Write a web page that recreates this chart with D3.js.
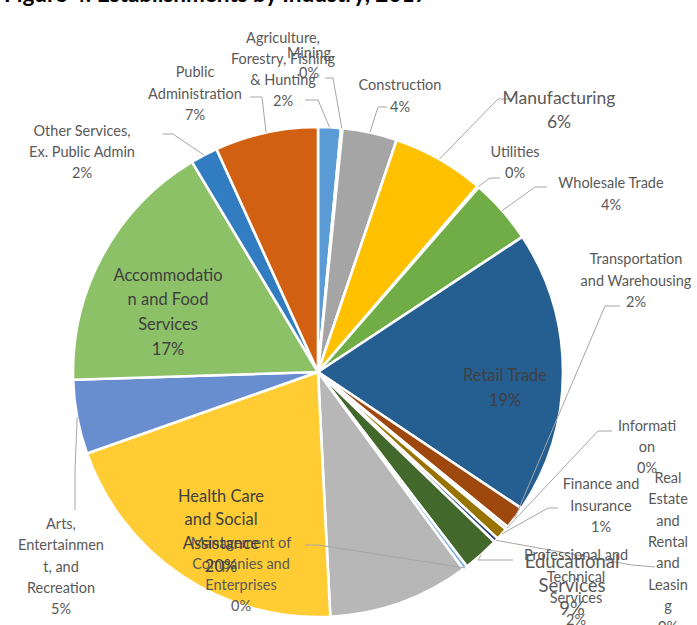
<!DOCTYPE html>
<html><head><meta charset="utf-8">
<script src="https://cdn.jsdelivr.net/npm/d3@7"></script>
<style>
html,body{margin:0;padding:0;background:#fff;}
svg{display:block;}
</style></head>
<body>
<svg id="chart" width="697" height="625"></svg>
<script>
// ---------- data ----------
const categories = [
  "Agriculture, Forestry, Fishing & Hunting", "Mining", "Construction", "Manufacturing",
  "Utilities", "Wholesale Trade", "Retail Trade", "Transportation and Warehousing",
  "Information", "Finance and Insurance", "Real Estate and Rental and Leasing",
  "Professional and Technical Services", "Management of Companies and Enterprises",
  "Educational Services", "Health Care and Social Assistance",
  "Arts, Entertainment, and Recreation", "Accommodation and Food Services",
  "Other Services, Ex. Public Admin", "Public Administration"
];
const values = [1.5, 0.1, 3.6, 6.1, 0.1, 4.3, 18.7, 1.5, 0.2, 0.8, 0.3, 2.4, 0.3, 9.3, 20.4, 4.9, 16.9, 1.8, 6.8];
const colors = ["#5B9BD5", "#ED7D31", "#A5A5A5", "#FFC000", "#4472C4", "#70AD47", "#255E91", "#9E480E",
  "#636363", "#997300", "#264478", "#43682B", "#7CAFDD", "#B7B7B7", "#FFCD33", "#698ED0",
  "#8CC168", "#327DC2", "#D26012"];
// wrapped label text as shown in the chart
const labelLines = [
  ["Agriculture,", "Forestry, Fishing", "& Hunting"], ["Mining"], ["Construction"], ["Manufacturing"],
  ["Utilities"], ["Wholesale Trade"], ["Retail Trade"], ["Transportation", "and Warehousing"],
  ["Informati", "on"], ["Finance and", "Insurance"], ["Real", "Estate", "and", "Rental", "and", "Leasin", "g"],
  ["Professional and", "Technical", "Services"], ["Management of", "Companies and", "Enterprises"],
  ["Educational", "Services"], ["Health Care", "and Social", "Assistance"],
  ["Arts,", "Entertainmen", "t, and", "Recreation"], ["Accommodatio", "n and Food", "Services"],
  ["Other Services,", "Ex. Public Admin"], ["Public", "Administration"]
];
const titleText = "Figure 4: Establishments by Industry, 2017";

// ---------- layout (label placement, not data) ----------
const layout = [
  {x:283, y:38,  lh:21, fs:14.5, elbow:[[305,100],[318,100]]},
  {x:309, y:53,  lh:20, fs:14.5, elbow:[[325,78],[333,78]]},
  {x:400, y:85,  lh:22, fs:14.5, elbow:[[387,107],[378,107]]},
  {x:559, y:98,  lh:24, fs:17.5, elbow:[[512,99],[498,99]]},
  {x:515, y:152, lh:21, fs:14.5, elbow:[[500,178],[490,178]]},
  {x:611, y:183, lh:22, fs:14.5, elbow:[[547,187],[535,187]]},
  {x:505, y:375, lh:25, fs:16.5, inside:true},
  {x:636, y:259, lh:21.5, fs:14.5, elbow:[[620,306],[605,306]]},
  {x:647, y:426, lh:21, fs:14.5, elbow:[[612,431],[598,431]]},
  {x:601, y:484, lh:21.5, fs:14.5, elbow:[[558,508],[548,508]]},
  {x:668, y:478, lh:21.3, fs:14.5, elbow:[[655,567],[632,565]]},
  {x:576, y:555, lh:21.5, fs:14.5, elbow:[[513,560],[478,560]]},
  {x:241, y:543, lh:21, fs:14.5, elbow:[[305,545],[318,545]]},
  {x:572, y:562, lh:23.5, fs:18.5},
  {x:221, y:496, lh:23.5, fs:16.5, inside:true},
  {x:61,  y:524, lh:21.3, fs:14.5, elbow:[[75,510],[75,470]]},
  {x:168, y:275, lh:24.7, fs:16.5, inside:true},
  {x:82,  y:131, lh:21, fs:14.5, elbow:[[163,134],[173,134]]},
  {x:195, y:72,  lh:21.5, fs:14.5, elbow:[[250,97],[262,97]]}
];

// ---------- drawing ----------
const svg = d3.select("#chart");
const cx = 318, cy = 372, R = 245;
const total = d3.sum(values);
const fmt = d3.format(".0%");
const fontFam = "Lato, 'Open Sans', sans-serif";

svg.append("text")
  .attr("x", 4).attr("y", 2)
  .attr("font-family", fontFam).attr("font-weight", "bold").attr("font-size", 22.5)
  .attr("fill", "#000").text(titleText);

const data = categories.map((c, i) => ({name: c, value: values[i], color: colors[i], lines: labelLines[i], lay: layout[i]}));
const pie = d3.pie().value(d => d.value).sort(null);
const arcs = pie(data);
const arc = d3.arc().innerRadius(0).outerRadius(R);
const edgeArc = d3.arc().innerRadius(R).outerRadius(R);

const g = svg.append("g").attr("transform", `translate(${cx},${cy})`);
g.selectAll("path.slice").data(arcs).join("path")
  .attr("class", "slice")
  .attr("d", arc)
  .attr("fill", d => d.data.color)
  .attr("stroke", "#fff").attr("stroke-width", 2.6).attr("stroke-linejoin", "round");

// leader lines
const line = d3.line();
arcs.forEach(a => {
  const L = a.data.lay;
  if (!L.elbow) return;
  const p = edgeArc.centroid(a);
  const pts = L.elbow.concat([[p[0] + cx, p[1] + cy]]);
  svg.append("path").attr("d", line(pts))
    .attr("fill", "none").attr("stroke", "#A6A6A6").attr("stroke-width", 1);
});

// labels
arcs.forEach(a => {
  const L = a.data.lay;
  const lines = a.data.lines.concat([fmt(a.data.value / total)]);
  const t = svg.append("text")
    .attr("font-family", fontFam).attr("font-size", L.fs)
    .attr("fill", L.inside ? "#404040" : "#595959")
    .attr("text-anchor", "middle");
  lines.forEach((s, k) => {
    t.append("tspan").attr("x", L.x).attr("y", L.y + k * L.lh).attr("dy", "0.35em").text(s);
  });
});
</script>
</body></html>
